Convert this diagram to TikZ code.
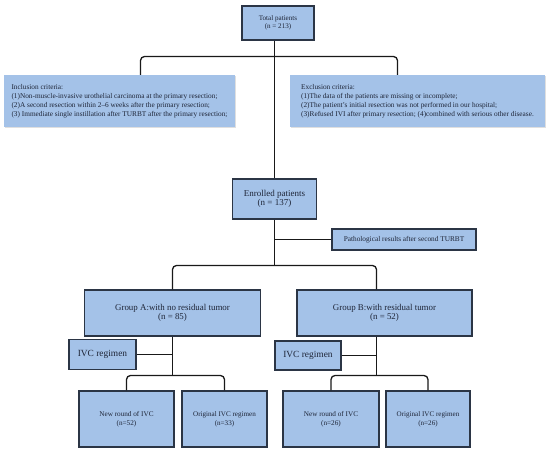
\documentclass[tikz,border=0pt]{standalone}
\usepackage{fontspec}
\setmainfont{Liberation Serif}
\usetikzlibrary{shadows}
\definecolor{boxfill}{HTML}{A4C2E8}
\definecolor{boxline}{HTML}{2B3545}
\definecolor{txt}{HTML}{1E2537}
\begin{document}
\begin{tikzpicture}[x=1pt,y=-1pt,
 bx/.style={draw=boxline,line width=1.3pt,fill=boxfill,inner sep=0pt,text=txt,align=center},
 crit/.style={fill=boxfill,inner sep=0pt,text=txt,align=left,font=\fontsize{7.3}{9}\selectfont,
   drop shadow={shadow xshift=0.6pt,shadow yshift=-1.2pt,opacity=0.25}},
 ln/.style={draw=black!90,line width=1.3pt,rounded corners=4pt}]
\useasboundingbox (0,0) rectangle (550,454);

\node[bx,minimum width=72pt,minimum height=34pt,font=\fontsize{7.1}{8.5}\selectfont] (total) at (278,23) {Total patients\\(n = 213)};
\node[crit,minimum width=231pt,minimum height=52pt] (incl) at (119.5,101) {Inclusion criteria:\\(1)Non-muscle-invasive urothelial carcinoma at the primary resection;\\(2)A second resection within 2–6 weeks after the primary resection;\\(3) Immediate single instillation after TURBT after the primary resection;};
\node[crit,minimum width=255pt,minimum height=52pt] (excl) at (417.5,101) {Exclusion criteria:\\(1)The data of the patients are missing or incomplete;\\(2)The patient's initial resection was not performed in our hospital;\\(3)Refused IVI after primary resection; (4)combined with serious other disease.};
\node[bx,minimum width=84pt,minimum height=40pt,font=\fontsize{9}{9.5}\selectfont] (enr) at (274.5,199) {Enrolled patients\\(n = 137)};
\node[bx,minimum width=144pt,minimum height=21pt,font=\fontsize{7.3}{8}\selectfont] (path) at (404,239.5) {Pathological results after second TURBT};
\node[bx,minimum width=176pt,minimum height=46pt,font=\fontsize{8.9}{9}\selectfont] (gA) at (172.5,313) {Group A:with no residual tumor\\(n = 85)};
\node[bx,minimum width=175pt,minimum height=46pt,font=\fontsize{8.9}{9}\selectfont] (gB) at (384.5,313) {Group B:with residual tumor\\(n = 52)};
\node[bx,minimum width=67pt,minimum height=30pt,font=\fontsize{9.4}{10}\selectfont] (ivcA) at (102.5,354.5) {IVC regimen};
\node[bx,minimum width=66pt,minimum height=29pt,font=\fontsize{9.4}{10}\selectfont] (ivcB) at (308,355.5) {IVC regimen};
\node[bx,minimum width=95pt,minimum height=56pt,font=\fontsize{7.2}{9}\selectfont] (newA) at (126.5,419) {New round of IVC\\(n=52)};
\node[bx,minimum width=85pt,minimum height=56pt,font=\fontsize{7.1}{9}\selectfont] (origA) at (224.5,419) {Original IVC regimen\\(n=33)};
\node[bx,minimum width=96pt,minimum height=56pt,font=\fontsize{7.2}{9}\selectfont] (newB) at (331,419) {New round of IVC\\(n=26)};
\node[bx,minimum width=84pt,minimum height=56pt,font=\fontsize{7.1}{9}\selectfont] (origB) at (428,419) {Original IVC regimen\\(n=26)};

\coordinate (cl) at (140.5,0);
\coordinate (cr) at (397.5,0);
\coordinate (jt) at (274.5,56.5);
\coordinate (jm) at (274.5,265.5);
\coordinate (vB) at (376.5,0);
\coordinate (lA) at (172.5,375.5);
\coordinate (lB) at (376.5,375.5);

% top branch
\draw[ln] (incl.north -| cl) |- (jt) -| (excl.north -| cr);
\draw[ln] (total.south -| enr.north) -- (enr.north);
% pathological
\draw[ln] (path.west) -- (path.west -| enr.south);
% groups
\draw[ln] (enr.south) -- (jm);
\draw[ln] (gA.north) |- (jm) -| (gB.north -| vB);
% group A
\draw[ln] (gA.south) -- (lA);
\draw[ln] (ivcA.east) -- (ivcA.east -| gA.south);
\draw[ln] (newA.north) |- (lA) -| (origA.north);
% group B
\draw[ln] (gB.south -| vB) -- (lB);
\draw[ln] (ivcB.east) -- (ivcB.east -| vB);
\draw[ln] (newB.north) |- (lB) -| (origB.north);
\end{tikzpicture}
\end{document}
